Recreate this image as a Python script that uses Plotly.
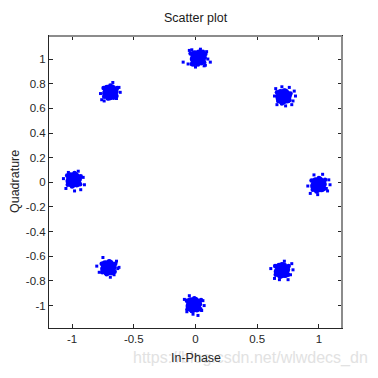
import plotly.graph_objects as go

# ---- data: 8 received-symbol clusters (In-Phase, Quadrature) ----
# dense core samples
core_i = [
    0.02, 0.05, -0.01, 0.03, 0.005, 0.045, -0.005,
    0.715, 0.745, 0.685, 0.725, 0.705, 0.74, 0.69,
    0.995, 1.025, 0.965, 1.005, 0.985, 1.02, 0.975,
    0.70, 0.73, 0.67, 0.71, 0.69, 0.725, 0.68,
    -0.014, 0.016, -0.044, -0.004, -0.024, 0.011, -0.039,
    -0.706, -0.676, -0.736, -0.696, -0.716, -0.681, -0.731,
    -0.987, -0.957, -1.017, -0.977, -0.997, -0.962, -1.012,
    -0.69, -0.66, -0.72, -0.68, -0.70, -0.665, -0.715,
]
core_q = [
    1.01, 1.02, 1.00, 1.04, 0.98, 0.985, 1.035,
    0.695, 0.705, 0.685, 0.725, 0.665, 0.675, 0.72,
    -0.02, -0.01, -0.03, 0.01, -0.05, -0.045, 0.005,
    -0.715, -0.705, -0.725, -0.685, -0.745, -0.74, -0.69,
    -0.994, -0.984, -1.004, -0.964, -1.024, -1.019, -0.969,
    -0.693, -0.683, -0.703, -0.663, -0.723, -0.718, -0.668,
    0.02, 0.03, 0.01, 0.05, -0.01, -0.005, 0.045,
    0.73, 0.74, 0.72, 0.76, 0.70, 0.705, 0.755,
]
# fuzzy rim samples
rim_i = [
    -0.04, 0.08, 0.07, -0.03, 0.06, -0.02, 0.02, 0.075,
    0.66, 0.77, 0.76, 0.67, 0.72, 0.70, 0.755, 0.665,
    0.94, 1.05, 1.04, 0.95, 1.00, 0.98, 1.045, 0.955,
    0.645, 0.755, 0.75, 0.65, 0.70, 0.685, 0.745, 0.66,
    -0.07, 0.045, 0.04, -0.065, -0.01, -0.03, 0.035, -0.06,
    -0.76, -0.65, -0.655, -0.755, -0.70, -0.72, -0.66, -0.75,
    -1.04, -0.93, -0.935, -1.035, -0.98, -1.00, -0.94, -1.03,
    -0.745, -0.635, -0.64, -0.74, -0.69, -0.71, -0.645, -0.735,
]
rim_q = [
    1.045, 1.04, 0.975, 0.96, 1.06, 0.955, 0.955, 1.01,
    0.73, 0.72, 0.665, 0.66, 0.745, 0.64, 0.69, 0.70,
    0.015, 0.02, -0.055, -0.06, 0.035, -0.075, -0.02, -0.02,
    -0.68, -0.68, -0.75, -0.75, -0.665, -0.765, -0.715, -0.715,
    -0.96, -0.955, -1.03, -1.03, -0.94, -1.045, -0.99, -0.995,
    -0.66, -0.66, -0.725, -0.73, -0.64, -0.745, -0.69, -0.695,
    0.055, 0.05, -0.015, -0.02, 0.075, -0.035, 0.02, 0.02,
    0.765, 0.765, 0.70, 0.695, 0.785, 0.68, 0.73, 0.735,
]
# sparse outer samples
edge_i = [
    -0.10, 0.12, 0.09, -0.05, 0.07, 0.00, 0.04, -0.06, 0.10, -0.03, 0.08,
    0.64, 0.80, 0.79, 0.76, 0.66, 0.73, 0.81, 0.65, 0.70, 0.78,
    0.91, 1.08, 1.07, 0.96, 1.03, 1.06, 0.93, 0.99, 1.09,
    0.61, 0.78, 0.77, 0.72, 0.64, 0.75, 0.68, 0.79,
    -0.09, 0.06, 0.05, -0.07, 0.02, -0.05, 0.07, -0.02,
    -0.80, -0.63, -0.64, -0.75, -0.69, -0.66, -0.78, -0.62,
    -1.07, -0.91, -0.90, -1.05, -0.95, -1.03, -0.93, -0.98,
    -0.77, -0.61, -0.62, -0.74, -0.67, -0.76, -0.64,
]
edge_q = [
    0.975, 0.975, 1.06, 1.07, 0.945, 0.935, 1.08, 0.96, 1.00, 1.075, 0.95,
    0.70, 0.74, 0.66, 0.77, 0.63, 0.62, 0.70, 0.76, 0.775, 0.63,
    -0.03, 0.02, -0.07, 0.06, 0.065, -0.05, -0.09, -0.10, -0.02,
    -0.70, -0.66, -0.75, -0.64, -0.78, -0.79, -0.79, -0.71,
    -0.95, -0.96, -1.04, -1.05, -1.08, -0.92, -1.00, -1.07,
    -0.68, -0.70, -0.64, -0.61, -0.77, -0.75, -0.73, -0.69,
    0.03, 0.04, -0.02, -0.05, 0.09, 0.08, -0.06, -0.07,
    0.72, 0.73, 0.77, 0.66, 0.81, 0.67, 0.68,
]

x_tickvals = [-1, -0.5, 0, 0.5, 1]
x_ticktext = ["-1", "-0.5", "0", "0.5", "1"]
y_tickvals = [-1, -0.8, -0.6, -0.4, -0.2, 0, 0.2, 0.4, 0.6, 0.8, 1]
y_ticktext = ["-1", "-0.8", "-0.6", "-0.4", "-0.2", "0", "0.2", "0.4", "0.6", "0.8", "1"]

BLUE = "#0000ff"
FONT = "Liberation Sans, Arial, sans-serif"

fig = go.Figure()
fig.add_trace(go.Scatter(x=core_i, y=core_q, mode="markers",
                         marker=dict(color=BLUE, size=9, line=dict(width=0)),
                         hoverinfo="skip", showlegend=False))
fig.add_trace(go.Scatter(x=rim_i, y=rim_q, mode="markers",
                         marker=dict(color=BLUE, size=4.5, line=dict(width=0)),
                         hoverinfo="skip", showlegend=False))
fig.add_trace(go.Scatter(x=edge_i, y=edge_q, mode="markers",
                         marker=dict(color=BLUE, size=3, symbol="square", line=dict(width=0)),
                         hoverinfo="skip", showlegend=False))

axis_common = dict(
    showgrid=False, zeroline=False, ticks="inside", ticklen=4, tickwidth=1,
    tickcolor="#262626", showline=True, linecolor="#262626", linewidth=1,
    mirror="ticks", tickfont=dict(family=FONT, size=11.5, color="#262626"),
)
fig.update_xaxes(range=[-1.187, 1.187], tickvals=x_tickvals, ticktext=x_ticktext, **axis_common)
fig.update_yaxes(range=[-1.182, 1.187], tickvals=y_tickvals, ticktext=y_ticktext, **axis_common)

fig.update_layout(
    width=370, height=370,
    margin=dict(l=41, r=36, t=28, b=50),
    paper_bgcolor="white", plot_bgcolor="white",
    font=dict(family=FONT, color="#262626"),
    shapes=[
        dict(type="line", xref="paper", yref="paper", x0=0, x1=1, y0=1, y1=1,
             line=dict(color="#8c8c8c", width=2), layer="above"),
        dict(type="line", xref="paper", yref="paper", x0=1, x1=1, y0=0, y1=1,
             line=dict(color="#8c8c8c", width=2), layer="above"),
    ],
    annotations=[
        dict(text="https://blog.csdn.net/wlwdecs_dn", xref="paper", yref="paper",
             x=1.096, y=-0.103, xanchor="right", yanchor="middle", showarrow=False,
             font=dict(family=FONT, size=16, color="#e2e2e2")),
        dict(text="In-Phase", xref="paper", yref="paper", x=0.502, y=-0.103,
             xanchor="center", yanchor="middle", showarrow=False,
             font=dict(family=FONT, size=12.5, color="#262626")),
        dict(text="Quadrature", xref="paper", yref="paper", x=-0.116, y=0.5,
             xanchor="center", yanchor="middle", showarrow=False, textangle=-90,
             font=dict(family=FONT, size=12.5, color="#262626")),
        dict(text="Scatter plot", xref="paper", yref="paper", x=0.5, y=1.062,
             xanchor="center", yanchor="middle", showarrow=False,
             font=dict(family=FONT, size=12.5, color="#1a1a1a")),
    ],
)

fig.write_html("out.html")
